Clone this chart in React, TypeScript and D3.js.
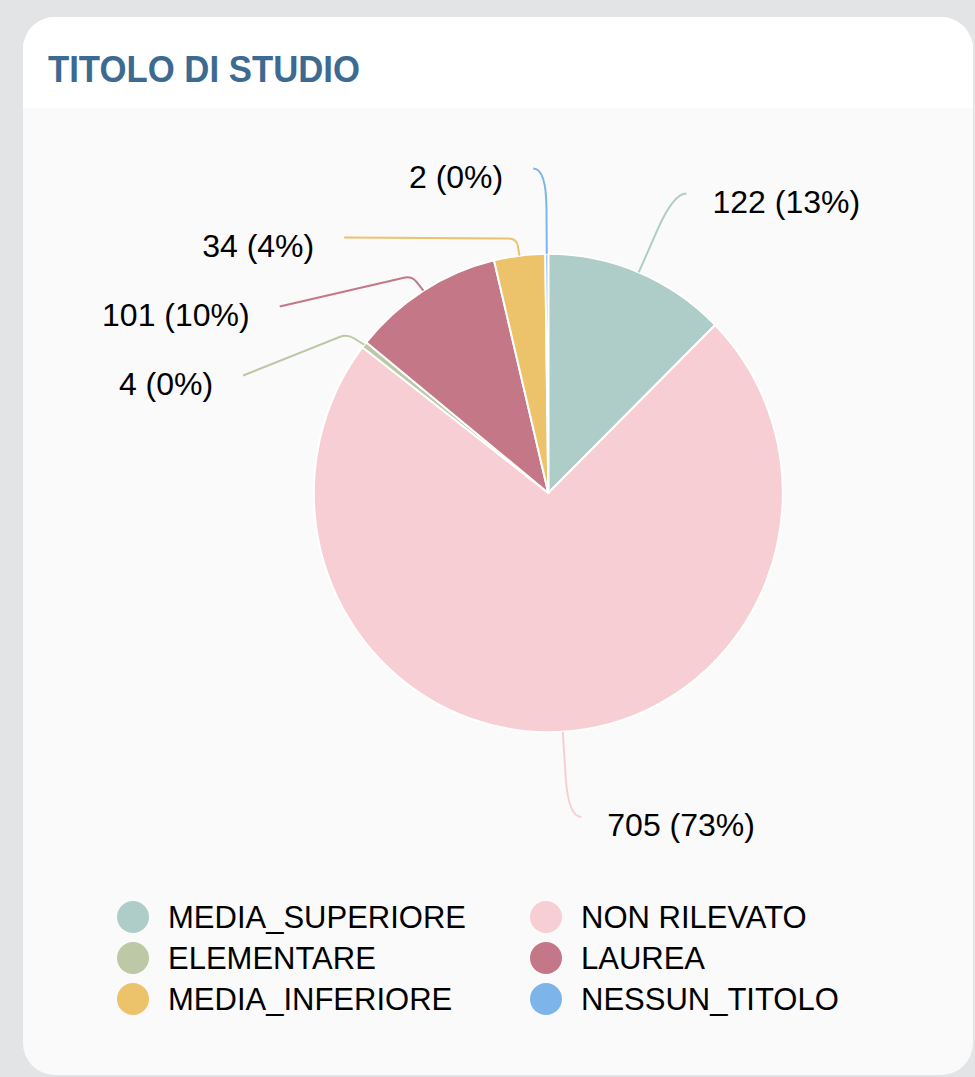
import React from "react";
import * as d3 from "d3";

const categories = ["MEDIA_SUPERIORE", "NON RILEVATO", "ELEMENTARE", "LAUREA", "MEDIA_INFERIORE", "NESSUN_TITOLO"];
const values = [122, 705, 4, 101, 34, 2];
const colors = ["#aecdc8", "#f7ced4", "#bcc8a6", "#c47787", "#ecc26b", "#7db5ea"];
const title = "TITOLO DI STUDIO";

const W = 975;
const H = 1077;

export default function App() {
  const cx = 548.3;
  const cy = 493;
  const r = 234.5;
  const ky = 1.02;
  const total = d3.sum(values);

  const pie = d3.pie<number>().sort(null).value((d) => d)(values);
  const arc = d3.arc<d3.PieArcDatum<number>>().innerRadius(0).outerRadius(r);

  const pt = (a: number, rad: number, k = 1): [number, number] => [cx + rad * Math.sin(a), cy - rad * Math.cos(a) * k];

  // label layout
  const len1 = 90;
  const len2 = 13;
  const gap = 69;
  const R2 = 327;
  type L = { i: number; mid: number; dir: number; p0: [number, number]; p1: [number, number]; p2: [number, number]; y: number; ny: number };
  const labels: L[] = pie.map((s, i) => {
    const mid = (s.startAngle + s.endAngle) / 2;
    const dir = Math.sin(mid) < 0 ? -1 : 1;
    const p0 = pt(mid, r, ky);
    const p1 = pt(mid, r + len1);
    const p2: [number, number] = [p1[0] + dir * len2, p1[1]];
    return { i, mid, dir, p0, p1, p2, y: p1[1], ny: p1[1] };
  });
  [-1, 1].forEach((side) => {
    const list = labels.filter((l) => l.dir === side).sort((a, b) => a.ny - b.ny);
    let prev = -Infinity;
    list.forEach((l) => {
      l.y = Math.max(l.ny, prev + gap);
      prev = l.y;
      if (l.y - l.ny > 1) {
        const dy = l.y - cy;
        l.p1 = pt(l.mid, r + 22);
        l.p2 = [cx + l.dir * Math.sqrt(R2 * R2 - dy * dy), l.y];
      }
    });
  });

  const linePath = (l: L) => {
    const [p0, p1, p2] = [l.p0, l.p1, l.p2];
    const d1 = Math.hypot(p1[0] - p0[0], p1[1] - p0[1]);
    const d2 = Math.hypot(p2[0] - p1[0], p2[1] - p1[1]);
    const shifted = l.y - l.ny > 1;
    const rc1 = shifted ? Math.min(8, d1 * 0.5) : Math.min(40, d1 * 0.6);
    const rc2 = shifted ? Math.min(8, d2 * 0.5) : d2;
    const a: [number, number] = [p1[0] - ((p1[0] - p0[0]) / d1) * rc1, p1[1] - ((p1[1] - p0[1]) / d1) * rc1];
    const b: [number, number] = [p1[0] + ((p2[0] - p1[0]) / d2) * rc2, p1[1] + ((p2[1] - p1[1]) / d2) * rc2];
    return `M${p0[0]},${p0[1]}L${a[0]},${a[1]}Q${p1[0]},${p1[1]} ${b[0]},${b[1]}L${p2[0]},${p2[1]}`;
  };

  const fmt = (v: number) => `${v} (${Math.round((v / total) * 100)}%)`;

  const legendX0 = 133;
  const legendColW = 413;
  const legendY0 = 917;
  const legendRowH = 41;

  return (
    <svg
      width={W}
      height={H}
      style={{ position: "absolute", left: 0, top: 0, display: "block" }}
      fontFamily="'Liberation Sans', Arial, sans-serif"
    >
      <rect x={0} y={0} width={W} height={H} fill="#e3e4e6" />
      <defs>
        <clipPath id="card">
          <rect x={23} y={17} width={950} height={1058} rx={32} ry={32} />
        </clipPath>
      </defs>
      <g clipPath="url(#card)">
        <rect x={23} y={17} width={950} height={1058} fill="#fafafa" />
        <rect x={23} y={17} width={950} height={91} fill="#ffffff" />
      </g>
      <text x={48} y={82} fontSize={37} fontWeight="bold" fill="#3d6a91" textLength={312} lengthAdjust="spacingAndGlyphs">
        {title}
      </text>

      <g transform={`translate(${cx},${cy}) scale(1,${ky})`}>
        {pie.map((s, i) => (
          <path key={i} d={arc(s) || ""} fill={colors[i]} stroke="#ffffff" strokeWidth={2} strokeLinejoin="round" />
        ))}
      </g>

      {labels.map((l) => (
        <g key={l.i}>
          <path d={linePath(l)} fill="none" stroke={colors[l.i]} strokeWidth={2} />
          <text
            x={l.p2[0] + l.dir * (l.dir < 0 ? 30 : 26)}
            y={l.p2[1] + 8}
            fontSize={32}
            fill="#000"
            textAnchor={l.dir < 0 ? "end" : "start"}
            dominantBaseline="central"
          >
            {fmt(values[l.i])}
          </text>
        </g>
      ))}

      {categories.map((c, i) => {
        const col = i % 2;
        const row = Math.floor(i / 2);
        const x = legendX0 + col * legendColW;
        const y = legendY0 + row * legendRowH;
        return (
          <g key={c}>
            <circle cx={x} cy={y} r={16} fill={colors[i]} />
            <text x={x + 35} y={y} fontSize={31} fill="#000" dominantBaseline="central">
              {c}
            </text>
          </g>
        );
      })}
    </svg>
  );
}
